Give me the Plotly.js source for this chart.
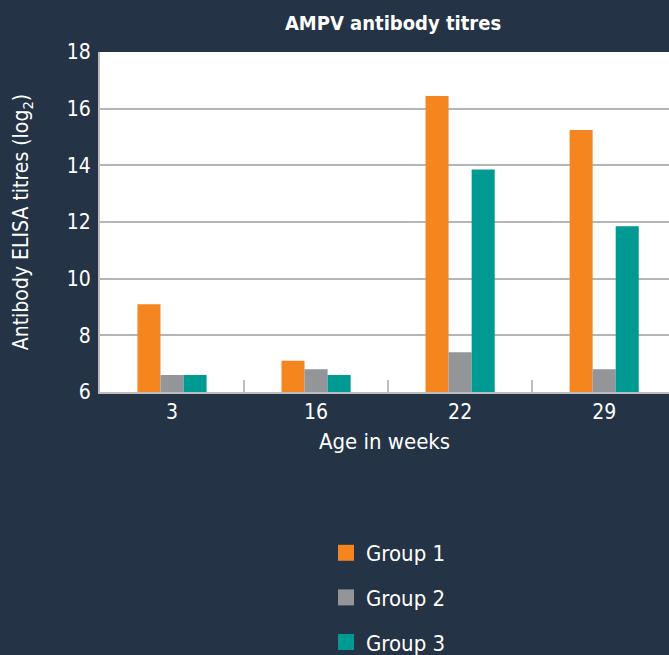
<!DOCTYPE html>
<html>
<head>
<meta charset="utf-8">
<script src="https://cdn.plot.ly/plotly-3.0.1.min.js"></script>
<style>html,body{margin:0;padding:0;background:#243345;}#chart{width:669px;height:655px;}</style>
</head>
<body>
<div id="chart"></div>
<script>
const categories = ["3", "16", "22", "29"];
const seriesNames = ["Group 1", "Group 2", "Group 3"];
const group1 = [9.1, 7.1, 16.45, 15.25];
const group2 = [6.6, 6.8, 7.4, 6.8];
const group3 = [6.6, 6.6, 13.85, 11.85];
const yTicks = [6, 8, 10, 12, 14, 16, 18];
const colors = ["#F5851F", "#939598", "#009A93"];

const FONT = "'Liberation Sans Narrow', 'DejaVu Sans Condensed', Roboto, sans-serif";
const values = [group1, group2, group3];

const bars = values.map((v, i) => ({
  type: "bar",
  name: seriesNames[i],
  x: categories,
  y: v,
  base: 0,
  marker: {color: colors[i]},
  showlegend: false,
  hoverinfo: "none"
}));

// legend entries (square swatches) for the three series
const legendEntries = seriesNames.map((n, i) => ({
  type: "scatter",
  mode: "markers",
  name: n,
  x: [null],
  y: [null],
  marker: {symbol: "square", size: 18, color: colors[i]},
  legendgroup: "g" + i,
  showlegend: true,
  hoverinfo: "none"
}));

const layout = {
  width: 669,
  height: 655,
  paper_bgcolor: "#243345",
  plot_bgcolor: "#ffffff",
  margin: {l: 100, r: 0, t: 52, b: 263, pad: 0, autoexpand: false},
  barmode: "group",
  bargap: 0.52,
  bargroupgap: 0,
  font: {family: FONT, color: "#ffffff", size: 21},
  title: {
    text: "<b>AMPV antibody titres</b>",
    x: 393 / 669, xref: "container", xanchor: "center",
    y: 1 - 23 / 655, yref: "container", yanchor: "middle",
    font: {family: FONT, size: 20, color: "#ffffff"}
  },
  xaxis: {
    type: "category",
    range: [-0.5, 3.45],
    showgrid: false,
    showline: true, linecolor: "#bdbdbd", linewidth: 2,
    ticks: "inside", tickson: "boundaries", ticklen: 12, tickcolor: "#bdbdbd", tickwidth: 2,
    tickfont: {family: FONT, size: 21, color: "#ffffff"},
    title: {text: "Age in weeks", font: {family: FONT, size: 22, color: "#ffffff"}, standoff: 10},
    fixedrange: true
  },
  yaxis: {
    range: [6, 18],
    tickvals: yTicks,
    ticktext: yTicks.map(String),
    showgrid: true, gridcolor: "#b5b5b5", gridwidth: 2,
    zeroline: false,
    showline: true, linecolor: "#bdbdbd", linewidth: 2,
    ticks: "", ticklabelstandoff: 3,
    tickfont: {family: FONT, size: 21, color: "#ffffff"},
    title: {text: "Antibody ELISA titres (log<sub>2</sub>)", font: {family: FONT, size: 21, color: "#ffffff"}, standoff: 32},
    fixedrange: true
  },
  showlegend: true,
  legend: {
    orientation: "v",
    x: (326 - 100) / 569, xanchor: "left",
    y: (392 - 532) / 340, yanchor: "top",
    bgcolor: "rgba(0,0,0,0)",
    font: {family: FONT, size: 22, color: "#ffffff"},
    tracegroupgap: 13,
    traceorder: "grouped",
    itemwidth: 30
  }
};

Plotly.newPlot("chart", bars.concat(legendEntries), layout, {displayModeBar: false, staticPlot: true});
</script>
</body>
</html>
